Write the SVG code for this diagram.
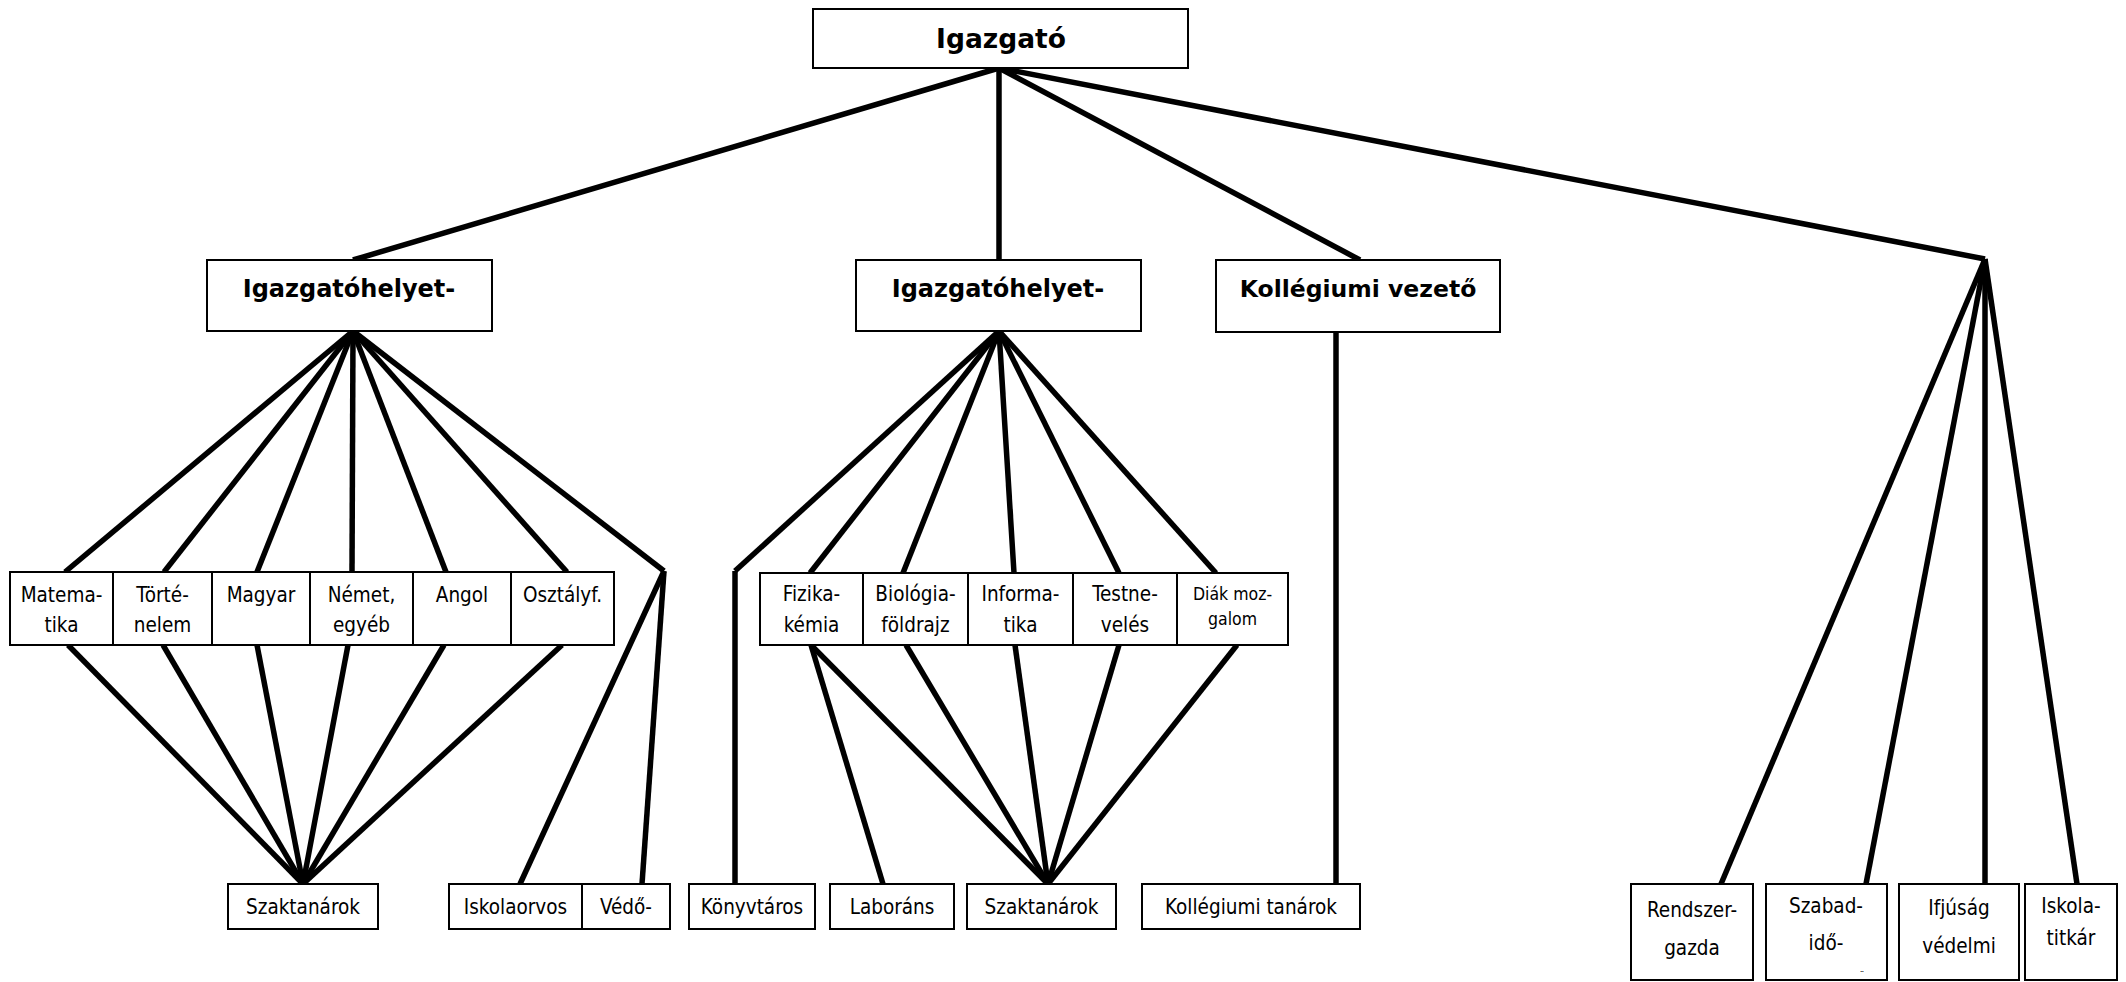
<svg xmlns="http://www.w3.org/2000/svg" width="2126" height="982" viewBox="0 0 2126 982">
<style>
.bx{fill:#fff;stroke:#000;stroke-width:2}
.t{font-family:"DejaVu Sans Condensed","DejaVu Sans",sans-serif;font-stretch:condensed;font-size:20.5px;text-anchor:middle;fill:#000}
.s{font-size:17.5px}
.b{font-family:"DejaVu Sans","Liberation Sans",sans-serif;font-weight:bold;font-size:24px;text-anchor:middle;fill:#000}
.ln{stroke:#000;stroke-width:5.5;fill:none;stroke-linecap:butt}
</style>
<rect width="2126" height="982" fill="#fff"/>
<g id="connectors" class="ln">
<line x1="999" y1="68" x2="353" y2="260"/>
<line x1="999" y1="68" x2="999" y2="260"/>
<line x1="999" y1="68" x2="1360" y2="260"/>
<line x1="999" y1="68" x2="1985" y2="259"/>
<line x1="353" y1="331" x2="65" y2="572"/>
<line x1="353" y1="331" x2="164" y2="572"/>
<line x1="353" y1="331" x2="257" y2="572"/>
<line x1="353" y1="331" x2="352" y2="572"/>
<line x1="353" y1="331" x2="446" y2="572"/>
<line x1="353" y1="331" x2="567" y2="572"/>
<line x1="353" y1="331" x2="664" y2="571"/>
<line x1="664" y1="571" x2="520" y2="884"/>
<line x1="664" y1="571" x2="642" y2="884"/>
<line x1="68" y1="645" x2="303" y2="884"/>
<line x1="163" y1="645" x2="303" y2="884"/>
<line x1="257" y1="645" x2="303" y2="884"/>
<line x1="348" y1="645" x2="303" y2="884"/>
<line x1="444" y1="645" x2="303" y2="884"/>
<line x1="562" y1="645" x2="303" y2="884"/>
<line x1="999" y1="331" x2="735" y2="571"/>
<line x1="735" y1="571" x2="735" y2="884"/>
<line x1="999" y1="331" x2="810" y2="573"/>
<line x1="999" y1="331" x2="903" y2="573"/>
<line x1="999" y1="331" x2="1014" y2="573"/>
<line x1="999" y1="331" x2="1119" y2="573"/>
<line x1="999" y1="331" x2="1216" y2="573"/>
<line x1="811" y1="645" x2="1048" y2="884"/>
<line x1="811" y1="645" x2="883" y2="884"/>
<line x1="906" y1="645" x2="1048" y2="884"/>
<line x1="1015" y1="645" x2="1048" y2="884"/>
<line x1="1119" y1="645" x2="1048" y2="884"/>
<line x1="1237" y1="645" x2="1048" y2="884"/>
<line x1="1336" y1="332" x2="1336" y2="884"/>
<line x1="1985" y1="259" x2="1721" y2="884"/>
<line x1="1985" y1="259" x2="1866" y2="884"/>
<line x1="1985" y1="259" x2="1985" y2="884"/>
<line x1="1985" y1="259" x2="2077" y2="884"/>
</g>
<g id="igazgato"><rect class="bx" x="813" y="9" width="375" height="59"/><text class="b" x="1001" y="48" style="font-size:26.5px">Igazgató</text></g>
<g id="helyettes1"><rect class="bx" x="207" y="260" width="285" height="71"/><text class="b" x="349" y="297">Igazgatóhelyet-</text></g>
<g id="helyettes2"><rect class="bx" x="856" y="260" width="285" height="71"/><text class="b" x="998" y="297">Igazgatóhelyet-</text></g>
<g id="kollegiumi-vezeto"><rect class="bx" x="1216" y="260" width="284" height="72"/><text class="b" x="1358" y="297" style="font-size:23.5px">Kollégiumi vezető</text></g>
<g id="matematika"><rect class="bx" x="10" y="572" width="103" height="73"/><text class="t" x="61.5" y="601.7">Matema-</text><text class="t" x="61.5" y="631.7">tika</text></g>
<g id="tortenelem"><rect class="bx" x="113" y="572" width="99" height="73"/><text class="t" x="162.5" y="601.7">Törté-</text><text class="t" x="162.5" y="631.7">nelem</text></g>
<g id="magyar"><rect class="bx" x="212" y="572" width="98" height="73"/><text class="t" x="261" y="601.7">Magyar</text></g>
<g id="nemet"><rect class="bx" x="310" y="572" width="103" height="73"/><text class="t" x="361.5" y="601.7">Német,</text><text class="t" x="361.5" y="631.7">egyéb</text></g>
<g id="angol"><rect class="bx" x="413" y="572" width="98" height="73"/><text class="t" x="462" y="601.7">Angol</text></g>
<g id="osztalyf"><rect class="bx" x="511" y="572" width="103" height="73"/><text class="t" x="562.5" y="601.7">Osztályf.</text></g>
<g id="fizika"><rect class="bx" x="760" y="573" width="103" height="72"/><text class="t" x="811.5" y="601">Fizika-</text><text class="t" x="811.5" y="631.7">kémia</text></g>
<g id="biologia"><rect class="bx" x="863" y="573" width="105" height="72"/><text class="t" x="915.5" y="601">Biológia-</text><text class="t" x="915.5" y="631.7">földrajz</text></g>
<g id="informatika"><rect class="bx" x="968" y="573" width="105" height="72"/><text class="t" x="1020.5" y="601">Informa-</text><text class="t" x="1020.5" y="631.7">tika</text></g>
<g id="testneveles"><rect class="bx" x="1073" y="573" width="104" height="72"/><text class="t" x="1125" y="601">Testne-</text><text class="t" x="1125" y="631.7">velés</text></g>
<g id="diakmozgalom"><rect class="bx" x="1177" y="573" width="111" height="72"/><text class="t s" x="1232.5" y="600">Diák moz-</text><text class="t s" x="1232.5" y="625">galom</text></g>
<g id="szaktanarok1"><rect class="bx" x="228" y="884" width="150" height="45"/><text class="t" x="303" y="914">Szaktanárok</text></g>
<g id="iskolaorvos"><rect class="bx" x="449" y="884" width="133" height="45"/><text class="t" x="515.5" y="914">Iskolaorvos</text></g>
<g id="vedono"><rect class="bx" x="582" y="884" width="88" height="45"/><text class="t" x="626" y="914">Védő-</text></g>
<g id="konyvtaros"><rect class="bx" x="689" y="884" width="126" height="45"/><text class="t" x="752" y="914">Könyvtáros</text></g>
<g id="laborans"><rect class="bx" x="830" y="884" width="124" height="45"/><text class="t" x="892" y="914">Laboráns</text></g>
<g id="szaktanarok2"><rect class="bx" x="967" y="884" width="149" height="45"/><text class="t" x="1041.5" y="914">Szaktanárok</text></g>
<g id="kollegiumi-tanarok"><rect class="bx" x="1142" y="884" width="218" height="45"/><text class="t" x="1251" y="914">Kollégiumi tanárok</text></g>
<g id="rendszergazda"><rect class="bx" x="1631" y="884" width="122" height="96"/><text class="t" x="1692" y="917">Rendszer-</text><text class="t" x="1692" y="955">gazda</text></g>
<g id="szabadido"><rect class="bx" x="1766" y="884" width="121" height="96"/><text class="t" x="1826" y="913">Szabad-</text><text class="t" x="1826" y="950">idő-</text><text class="t" x="1862" y="979" style="font-size:10px">¨</text></g>
<g id="ifjusagvedelmi"><rect class="bx" x="1899" y="884" width="120" height="96"/><text class="t" x="1959" y="915">Ifjúság</text><text class="t" x="1959" y="953">védelmi</text></g>
<g id="iskolatitkar"><rect class="bx" x="2025" y="884" width="92" height="96"/><text class="t" x="2071" y="913">Iskola-</text><text class="t" x="2071" y="945">titkár</text></g>
</svg>
